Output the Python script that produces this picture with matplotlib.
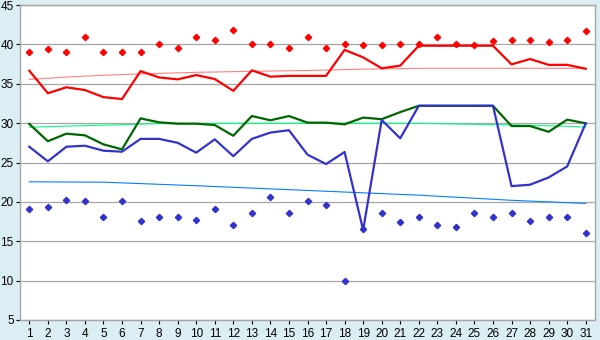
# Temperatura diária: máximas, médias e mínimas com linhas de tendência
import matplotlib
matplotlib.use("Agg")
from matplotlib import pyplot as plt

plt.rcParams['font.family'] = ['Liberation Sans', 'DejaVu Sans']

dias = list(range(1, 32))

# pontos (losangos) vermelhos e azuis
max_pontos = [39.0, 39.4, 39.0, 41.0, 39.0, 39.0, 39.0, 40.0, 39.6, 41.0,
              40.5, 41.8, 40.0, 40.0, 39.5, 41.0, 39.5, 40.0, 39.9, 39.9,
              40.0, 40.0, 41.0, 40.0, 39.9, 40.4, 40.5, 40.5, 40.3, 40.5, 41.65]
min_pontos = [19.06, 19.3, 20.2, 20.07, 18.04, 20.07, 17.53, 18.04, 18.04, 17.66,
              19.06, 17.02, 18.55, 20.58, 18.55, 20.07, 19.56, 10.0, 16.52, 18.55,
              17.4, 18.04, 17.02, 16.77, 18.55, 18.04, 18.55, 17.53, 18.04, 18.04, 16.0]

# linhas
linha_vermelha = [36.66, 33.8, 34.55, 34.2, 33.3, 33.06, 36.6, 35.8, 35.56, 36.1,
                  35.6, 34.1, 36.7, 35.9, 36.0, 36.0, 36.0, 39.3, 38.35, 36.96,
                  37.3, 39.83, 39.83, 39.83, 39.83, 39.83, 37.46, 38.14, 37.4, 37.4, 36.9]
linha_verde = [29.9, 27.7, 28.66, 28.45, 27.3, 26.67, 30.6, 30.1, 29.93, 29.93,
               29.76, 28.4, 30.9, 30.36, 30.9, 30.06, 30.06, 29.85, 30.7, 30.5,
               31.4, 32.2, 32.2, 32.2, 32.2, 32.2, 29.63, 29.63, 28.9, 30.44, 29.98]
linha_azul = [27.0, 25.15, 27.0, 27.13, 26.5, 26.37, 28.0, 28.0, 27.5, 26.25,
              27.94, 25.8, 28.0, 28.8, 29.1, 26.0, 24.8, 26.33, 16.43, 30.4,
              28.07, 32.2, 32.2, 32.2, 32.2, 32.2, 22.0, 22.18, 23.1, 24.5, 29.98]

# linhas de tendência
tend_verm_dias = [1, 2, 3, 5, 7, 10, 13, 16, 19, 22, 31]
tend_verm = [35.56, 35.7, 35.85, 36.08, 36.25, 36.45, 36.58, 36.68, 36.85, 36.96, 36.96]
tend_verde_dias = [1, 2, 4, 6, 8, 16, 22, 25, 28, 30, 31]
tend_verde = [29.47, 29.55, 29.68, 29.8, 29.95, 30.0, 29.97, 29.85, 29.72, 29.6, 29.5]
tend_azul_dias = [1, 5, 10, 16, 22, 27, 31]
tend_azul = [22.55, 22.5, 22.05, 21.45, 20.85, 20.2, 19.8]

fundo = "#DAEEF3"
fig = plt.figure(figsize=(6, 3.4), dpi=100, facecolor=fundo)
ax = fig.add_axes([20 / 600, 20 / 340, 575 / 600, 315 / 340])
ax.set_facecolor("white")

ax.grid(axis="y", color="#A6A6A6", linewidth=0.9, zorder=0)

ax.plot(tend_verm_dias, tend_verm, color="#FF8080", linewidth=0.8, zorder=2)
ax.plot(tend_verde_dias, tend_verde, color="#00FF80", linewidth=0.8, zorder=2)
ax.plot(tend_azul_dias, tend_azul, color="#0080FF", linewidth=0.8, zorder=2)

ax.plot(dias, linha_vermelha, color="#FF0000", linewidth=1.6, zorder=3)
ax.plot(dias, linha_verde, color="#006600", linewidth=1.6, zorder=3)
ax.plot(dias, linha_azul, color="#3333CC", linewidth=1.6, zorder=3)

ax.plot(dias, max_pontos, linestyle="none", marker="D", markersize=3.2,
        color="#FF0000", zorder=4)
ax.plot(dias, min_pontos, linestyle="none", marker="D", markersize=3.2,
        color="#3333CC", zorder=4)

ax.set_xlim(0.5, 31.5)
ax.set_ylim(5, 45)
ax.set_xticks(dias)
ax.set_yticks(range(5, 46, 5))
ax.tick_params(axis="both", labelsize=8.5, length=3, width=0.8, pad=1.5, colors="black")
ax.tick_params(axis="x", pad=3)

for lado in ax.spines.values():
    lado.set_color("#A6A6A6")
    lado.set_linewidth(1)

fig.savefig("out.png", dpi=100, facecolor=fundo)
